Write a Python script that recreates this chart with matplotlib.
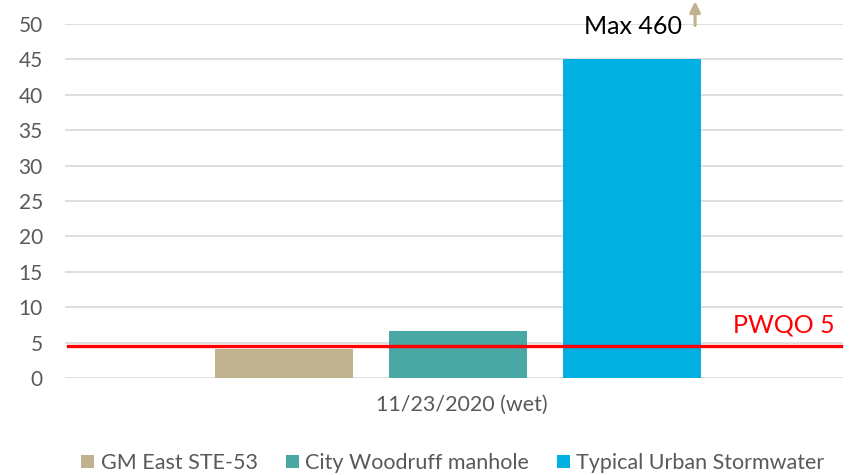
import matplotlib
matplotlib.use("Agg")
import matplotlib.pyplot as plt
from matplotlib.patches import Patch

plt.rcParams['font.family'] = ['Lato', 'DejaVu Sans']

CATEGORY = "11/23/2020 (wet)"
SERIES = ["GM East STE-53", "City Woodruff manhole", "Typical Urban Stormwater"]
VALUES = [4.1, 6.6, 45]
COLORS = ["#BFB28F", "#4AA8A4", "#00B0E0"]
PWQO = 4.5
PWQO_LABEL = "PWQO 5"
MAX_LABEL = "Max 460"
YTICKS = list(range(0, 55, 5))

fig = plt.figure(figsize=(8.53, 4.75), dpi=100)
ax = fig.add_axes([0.0762, 0.2042, 0.9121, 0.7453])

xpos = [-1, 0, 1]
ax.bar(xpos, VALUES, width=0.793, color=COLORS, zorder=2)

ax.set_xlim(-2.26, 2.21)
ax.set_ylim(0, 50)
ax.set_yticks(YTICKS)
ax.set_yticklabels([str(t) for t in YTICKS], fontsize=15, color="#595959")
ax.tick_params(axis='y', length=0, pad=16)
ax.set_xticks([0.02])
ax.set_xticklabels([CATEGORY], fontsize=15.5, color="#595959")
ax.tick_params(axis='x', length=0, pad=12)
ax.grid(axis='y', color="#d9d9d9", linewidth=1.2, zorder=0)
ax.set_axisbelow(True)
for s in ax.spines.values():
    s.set_visible(False)

# guideline
ax.plot([-2.24, 2.2], [PWQO, PWQO], color="#FF0000", linewidth=2.4, zorder=3, clip_on=False)
ax.text(2.16, 5.9, PWQO_LABEL, color="#FF0000", fontsize=18, ha='right', va='bottom')

# max annotation
ax.text(0.72, 49.6, MAX_LABEL, fontsize=18, color="black", ha='left', va='center')
ax.annotate("", xy=(1.36, 53.6), xytext=(1.36, 49.4),
            arrowprops=dict(arrowstyle="-|>", color="#BFB28F", lw=2.2, mutation_scale=16),
            annotation_clip=False)

handles = [Patch(facecolor=c, edgecolor='none') for c in COLORS]
fig.legend(handles, SERIES, loc='center', bbox_to_anchor=(453 / 853, 1 - 463 / 475),
           ncol=3, frameon=False, fontsize=15.5, handlelength=0.6, handleheight=0.6,
           handletextpad=0.3, columnspacing=1.3, labelcolor="#595959")

fig.savefig("out.png", dpi=100)
